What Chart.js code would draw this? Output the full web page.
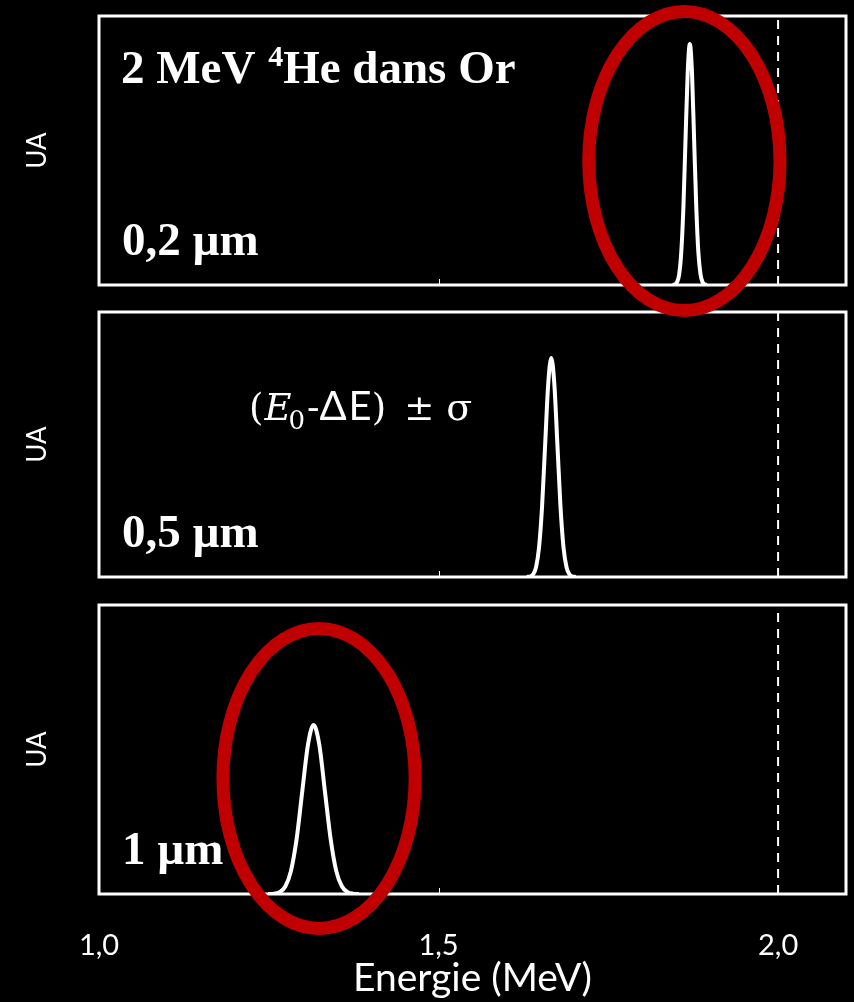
<!DOCTYPE html>
<html lang="fr">
<head>
<meta charset="utf-8">
<title>2 MeV 4He dans Or</title>
<script src="https://cdn.jsdelivr.net/npm/chart.js@4.4.0/dist/chart.umd.min.js"></script>
<style>
  body { margin: 0; background: #000; }
  #wrap { position: relative; width: 854px; height: 1002px; background: #000; overflow: hidden; }
  #wrap canvas { position: absolute; left: 0; }
</style>
</head>
<body>
<div id="wrap">
  <canvas id="c3" width="854" height="412" style="top:590px; z-index:1"></canvas>
  <canvas id="c2" width="854" height="290" style="top:300px; z-index:2"></canvas>
  <canvas id="c1" width="854" height="330" style="top:0px; z-index:3"></canvas>
</div>
<script>
// axe des energies (MeV)
const energyMin = 1.0;
const energyMax = 2.1;
const energyTicks = [1.0, 1.5, 2.0];
const e0 = 2.0; // energie incidente, ligne pointillee

// pic apres 0,2 µm (UA)
const peak02x = [1.8448, 1.8480, 1.8511, 1.8543, 1.8574, 1.8606, 1.8637, 1.8669, 1.8700,
                 1.8732, 1.8763, 1.8795, 1.8826, 1.8858, 1.8889, 1.8921, 1.8952];
const peak02y = [0.0003, 0.002, 0.010, 0.039, 0.121, 0.291, 0.543, 0.791, 0.896,
                 0.791, 0.543, 0.291, 0.121, 0.039, 0.010, 0.002, 0.0003];

// pic apres 0,5 µm
const peak05x = [1.6300, 1.6345, 1.6390, 1.6435, 1.6480, 1.6525, 1.6570, 1.6615, 1.6660,
                 1.6705, 1.6750, 1.6795, 1.6840, 1.6885, 1.6930, 1.6975, 1.7020];
const peak05y = [0.0002, 0.0018, 0.0092, 0.0363, 0.1118, 0.2682, 0.5010, 0.7289, 0.826,
                 0.7289, 0.5010, 0.2682, 0.1118, 0.0363, 0.0092, 0.0018, 0.0002];

// pic apres 1 µm
const peak1x = [1.2492, 1.2576, 1.2659, 1.2743, 1.2826, 1.2910, 1.2993, 1.3077, 1.3160,
                1.3244, 1.3327, 1.3411, 1.3494, 1.3578, 1.3661, 1.3745, 1.3828];
const peak1y = [0.0002, 0.0013, 0.0065, 0.0257, 0.0792, 0.1900, 0.3548, 0.5163, 0.585,
                0.5163, 0.3548, 0.1900, 0.0792, 0.0257, 0.0065, 0.0013, 0.0002];

const thickness = ['0,2 µm', '0,5 µm', '1 µm'];

const panelPlugin = {
  id: 'panel',
  beforeDatasetsDraw(chart) {
    const {ctx, chartArea: a, scales: {x}} = chart;
    ctx.save();
    ctx.strokeStyle = '#fff';
    ctx.lineWidth = 3;
    ctx.strokeRect(a.left, a.top, a.right - a.left, a.bottom - a.top);
    ctx.lineWidth = 1;
    energyTicks.forEach(v => {
      const px = Math.round(x.getPixelForValue(v)) + 0.5;
      ctx.beginPath();
      ctx.moveTo(px, a.bottom);
      ctx.lineTo(px, a.bottom - 6);
      ctx.stroke();
    });
    ctx.restore();
  },
  afterDraw(chart, args, opts) {
    const {ctx, chartArea: a, scales: {x, y}} = chart;
    ctx.save();
    ctx.fillStyle = '#fff';
    ctx.textBaseline = 'alphabetic';
    ctx.font = 'bold 47px "Liberation Serif"';
    ctx.fillText(opts.label, a.left + 23, a.bottom - 30);

    if (opts.title) {
      let px = a.left + 22;
      const by = a.top + 67;
      ctx.font = 'bold 47px "Liberation Serif"';
      ctx.fillText('2 MeV ', px, by);
      px += ctx.measureText('2 MeV ').width + 1;
      ctx.font = 'bold 30px "Liberation Serif"';
      ctx.fillText('4', px, by - 17);
      px += ctx.measureText('4').width;
      ctx.font = 'bold 47px "Liberation Serif"';
      ctx.fillText('He dans Or', px, by);
    }

    if (opts.formula) {
      let px = a.left + 150;
      const by = a.top + 108;
      // texte, police, decalage vertical, espace apres
      const parts = [
        ['(', '37px "DejaVu Serif"', 0, 1],
        ['E', 'italic 37px "DejaVu Serif"', 0, -3],
        ['0', '26px "DejaVu Serif"', 9, 2],
        ['-', '37px "DejaVu Serif"', 0, 0],
        ['Δ', '40px Lato', 0, 2],
        ['E', '40px Lato', 0, 0],
        [')', '37px "DejaVu Serif"', 0, 18],
        ['±', '36px "DejaVu Serif"', 0, 12],
        ['σ', '38px "DejaVu Serif"', 0, 0]
      ];
      parts.forEach(([t, f, dy, gap]) => {
        ctx.font = f;
        ctx.fillText(t, px, by + dy);
        px += ctx.measureText(t).width + gap;
      });
    }

    if (opts.ellipse) {
      const e = opts.ellipse;
      const cx = x.getPixelForValue(e.x);
      const cy = y.getPixelForValue(e.y);
      const rx = x.getPixelForValue(e.x + e.rx) - cx;
      const ry = cy - y.getPixelForValue(e.y + e.ry);
      ctx.strokeStyle = '#c00000';
      ctx.lineWidth = 13;
      ctx.beginPath();
      ctx.ellipse(cx, cy, rx, ry, 0, 0, Math.PI * 2);
      ctx.stroke();
    }
    ctx.restore();
  }
};

function makeChart(id, xs, ys, padding, panelOpts, showAxis) {
  const xScale = {
    type: 'linear', min: energyMin, max: energyMax, display: showAxis,
    grid: { display: false }, border: { display: false },
    afterBuildTicks: s => { s.ticks = energyTicks.map(v => ({value: v})); },
    ticks: { color: '#fff', font: { family: 'Lato', size: 29 }, padding: 26, maxRotation: 0,
             callback: v => v.toFixed(1).replace('.', ',') },
    title: { display: true, text: 'Energie (MeV)', color: '#fff',
             font: { family: 'Lato', size: 39 }, padding: { top: 0, bottom: 0 } }
  };
  if (showAxis) xScale.afterFit = s => { s.height = 108; };

  return new Chart(document.getElementById(id), {
    type: 'line',
    data: {
      datasets: [
        { data: xs.map((v, i) => ({x: v, y: ys[i]})), borderColor: '#fff', borderWidth: 4,
          pointRadius: 0, cubicInterpolationMode: 'monotone', fill: false },
        { data: [{x: e0, y: 0}, {x: e0, y: 1}], borderColor: '#fff', borderWidth: 2,
          borderDash: [9, 7], pointRadius: 0, fill: false }
      ]
    },
    options: {
      responsive: false,
      animation: false,
      devicePixelRatio: 1,
      layout: { padding },
      plugins: { legend: { display: false }, tooltip: { enabled: false }, panel: panelOpts },
      scales: {
        x: xScale,
        y: {
          min: 0, max: 1,
          grid: { display: false }, border: { display: false }, ticks: { display: false },
          title: { display: true, text: 'UA', color: '#fff',
                   font: { family: 'Lato', size: 26 }, padding: { top: 22, bottom: 0 } },
          afterFit: s => { s.width = 99; }
        }
      }
    },
    plugins: [panelPlugin]
  });
}

makeChart('c1', peak02x, peak02y, { top: 16, right: 8, bottom: 45, left: 0 },
  { label: thickness[0], title: true, ellipse: { x: 1.862, y: 0.461, rx: 0.1408, ry: 0.556 } }, false);
makeChart('c2', peak05x, peak05y, { top: 12, right: 8, bottom: 13, left: 0 },
  { label: thickness[1], formula: true }, false);
makeChart('c3', peak1x, peak1y, { top: 15, right: 8, bottom: 0, left: 0 },
  { label: thickness[2], ellipse: { x: 1.324, y: 0.400, rx: 0.1415, ry: 0.519 } }, true);
</script>
</body>
</html>
